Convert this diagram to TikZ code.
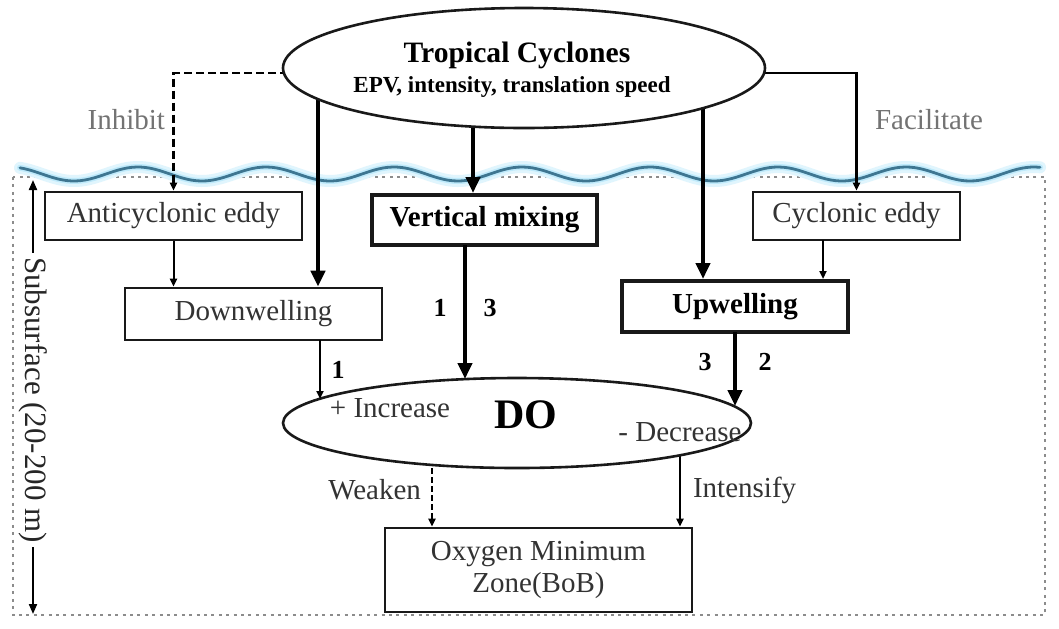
\documentclass[tikz,border=0pt]{standalone}
\usepackage{fontspec}
\setmainfont{Liberation Serif}
\usetikzlibrary{arrows.meta,shapes.geometric,backgrounds}
\begin{document}
\begin{tikzpicture}[x=0.5pt,y=-0.5pt,
  every node/.style={font=\fontsize{14.5}{17}\selectfont},
  boxn/.style={draw=black!90,line width=1.3pt,fill=white,text=black!80,inner sep=0pt},
  boldbox/.style={boxn,line width=2pt,text=black,font=\fontsize{14.5}{17}\selectfont\bfseries},
  ell/.style={ellipse,draw=black!90,line width=1.3pt,fill=white,inner sep=0pt},
  thickarrow/.style={line width=2pt,-{Triangle[length=8pt,width=7pt]}},
  thinarrow/.style={line width=1pt,-{Triangle[length=4pt,width=3.5pt]}},
  lbl/.style={text=black!55},
  dlbl/.style={text=black!80},
  num/.style={font=\fontsize{13}{15}\selectfont\bfseries},
  wavepath/.style={line cap=round}]
\useasboundingbox (0,0) rectangle (1059,628);
\begin{scope}[on background layer]
\fill[white] (0,0) rectangle (1059,628);
% subsurface frame
\draw[black!45,line width=0.9pt,dash pattern=on 1.5pt off 2.2pt] (13,177) rectangle (1045,615);
% wave
\draw[wavepath,cyan!12,line width=6pt] plot[domain=20:1040,samples=220] (\x,{174-7*cos(2.8125*(\x-10))});
\draw[wavepath,cyan!25,line width=3pt] plot[domain=20:1040,samples=220] (\x,{174-7*cos(2.8125*(\x-10))});
\draw[wavepath,color={rgb,255:red,62;green,118;blue,145},line width=1.4pt] plot[domain=20:1040,samples=220] (\x,{174-7*cos(2.8125*(\x-10))});
\end{scope}

% nodes
\node[ell,minimum width=241pt,minimum height=60pt] (tc) at (524,68) {};
\node[font=\fontsize{14.8}{17}\selectfont\bfseries] (tct) at (517,55) {Tropical Cyclones};
\node[font=\fontsize{11.5}{13}\selectfont\bfseries] (tcs) at (512,87) {EPV, intensity, translation speed};

\node[boxn,minimum width=128.5pt,minimum height=24pt] (anti) at (173.5,216) {Anticyclonic eddy};
\node[boldbox,minimum width=112.5pt,minimum height=25pt] (vm) at (484.5,220) {Vertical mixing};
\node[boxn,minimum width=103.5pt,minimum height=24pt] (cyc) at (856.5,216) {Cyclonic eddy};
\node[boxn,minimum width=128.5pt,minimum height=26pt] (dw) at (253.5,314) {Downwelling};
\node[boldbox,minimum width=113pt,minimum height=25.5pt] (up) at (735,306.5) {Upwelling};

\node[ell,minimum width=234pt,minimum height=45pt] (do) at (517,423) {};
\node[font=\fontsize{21}{24}\selectfont\bfseries] (dot) at (526,415) {DO};
\node[dlbl] (inc) at (390,408) {+ Increase};
\node[dlbl] (dec) at (680,432) {- Decrease};

\node[boxn,minimum width=153.5pt,minimum height=42pt,align=center] (omz) at (538.5,570) {Oxygen Minimum\\[-1pt]Zone(BoB)};

\node[lbl,anchor=east] (inh) at (172,120) {Inhibit};
\node[lbl,anchor=west] (fac) at (868,120) {Facilitate};
\node[dlbl,anchor=east] (wk) at (428,490) {Weaken};
\node[dlbl,anchor=west] (ins) at (686,490) {Intensify};

\node[num] (n1a) at (440,308) {1};
\node[num] (n3a) at (490,308) {3};
\node[num] (n1b) at (338,370) {1};
\node[num] (n3b) at (705,362) {3};
\node[num] (n2b) at (765,362) {2};

\node[rotate=-90,fill=white,inner sep=2pt,text=black!85,font=\fontsize{15.5}{18}\selectfont] (sub) at (33,400) {Subsurface (20-200 m)};
\coordinate (subtop) at (33,180);
\coordinate (subbot) at (33,614);
\draw[line width=1pt,-{Triangle[length=5pt,width=4pt]}] (sub.west) -- (subtop);
\draw[line width=1pt,-{Triangle[length=5pt,width=4pt]}] (sub.east) -- (subbot);

% coordinates for connectors
\coordinate (tcA) at (318,68);
\coordinate (tcB) at (473,68);
\coordinate (tcC) at (703,68);
\coordinate (tcL) at (300,73);
\coordinate (tcR) at (750,73);
\coordinate (cycA) at (823,240);
\coordinate (dwA) at (320,340);
\coordinate (dwE) at (320,399);
\coordinate (vmA) at (465,245);
\coordinate (vmE) at (465,379);
\coordinate (upA) at (735,332);
\coordinate (upE) at (735,406);
\coordinate (doW) at (432,423);
\coordinate (doI) at (680,423);

\begin{scope}[on background layer]
\draw[line width=1.2pt,dash pattern=on 4pt off 2pt,-{Triangle[length=4pt,width=3.5pt]}] (tcL) -| (anti.north);
\draw[line width=1.2pt,-{Triangle[length=4pt,width=3.5pt]}] (tcR) -| (cyc.north);
\draw[thickarrow] (tcA) -- (tcA |- dw.north);
\draw[thickarrow] (tcB) -- (tcB |- vm.north);
\draw[thickarrow] (tcC) -- (tcC |- up.north);
\draw[thinarrow,line width=1.2pt,dash pattern=on 3pt off 1.5pt] (doW) -- (doW |- omz.north);
\draw[thinarrow] (doI) -- (doI |- omz.north);
\end{scope}
\draw[thinarrow] (anti.south) -- (anti.south |- dw.north);
\draw[thinarrow] (cycA) -- (cycA |- up.north);
\draw[thinarrow] (dwA) -- (dwE);
\draw[thickarrow] (vmA) -- (vmE);
\draw[thickarrow] (upA) -- (upE);
\end{tikzpicture}
\end{document}
